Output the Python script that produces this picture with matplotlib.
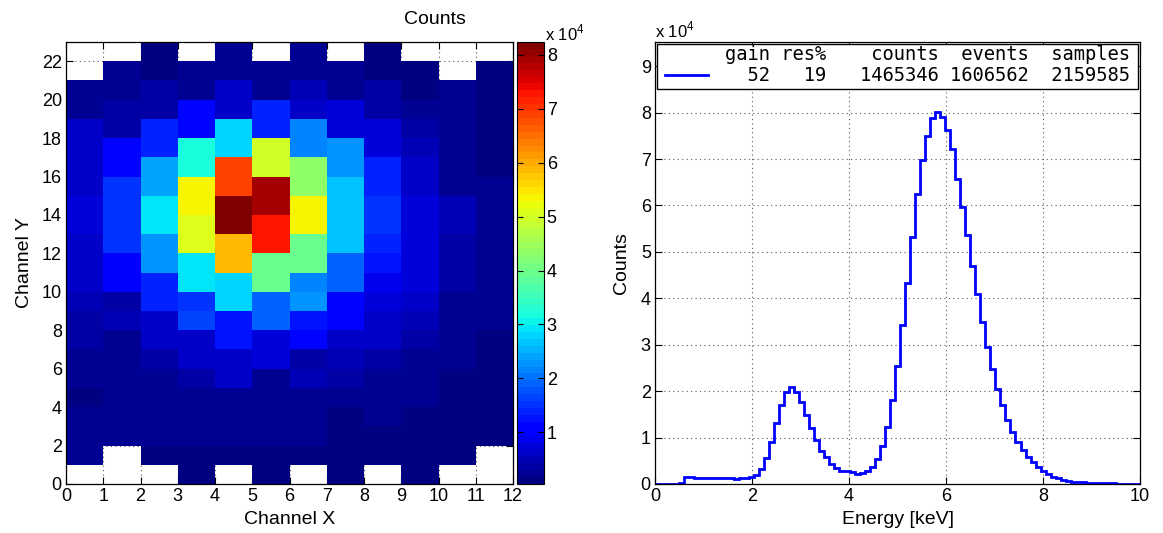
import numpy as np
import matplotlib
matplotlib.use("Agg")
import matplotlib.pyplot as plt
from matplotlib.patches import Rectangle
from matplotlib.lines import Line2D

plt.rcParams["font.family"] = "Liberation Sans"
plt.rcParams["mathtext.fontset"] = "custom"
plt.rcParams["mathtext.rm"] = "Liberation Sans"

# pad map: counts per channel (thousands), rows from Y=0 upwards, NaN = dead pad
nan = np.nan
pad_counts_k = [
    [nan, nan, nan, 1.2, nan, 1.2, nan, 1.2, nan, 1.2, nan, nan],
    [1.7, nan, 1.2, 1.2, 1.2, 1.2, 1.2, 1.2, 1.2, 1.2, 1.2, nan],
    [1.7, 1.7, 1.7, 2.3, 1.7, 2.3, 1.7, 1.2, 1.2, 1.2, 1.2, 1.2],
    [1.7, 1.7, 2.3, 2.3, 1.7, 2.3, 1.7, 0.7, 1.7, 1.2, 1.2, 1.2],
    [1.2, 1.7, 1.7, 2.9, 1.7, 2.3, 1.7, 2.9, 2.3, 2.3, 1.2, 1.2],
    [2.9, 2.3, 2.9, 4.0, 5.7, 2.9, 4.6, 3.4, 2.9, 2.3, 1.2, 1.2],
    [2.9, 2.3, 3.4, 6.8, 5.7, 8.0, 4.0, 5.1, 3.4, 2.9, 1.7, 1.2],
    [3.4, 2.9, 5.7, 6.8, 12.6, 8.0, 11.0, 6.3, 5.7, 4.0, 1.7, 1.2],
    [3.4, 4.6, 6.3, 16.0, 12.6, 19.1, 12.0, 11.5, 6.3, 4.6, 2.9, 2.3],
    [5.1, 4.0, 13.4, 15.1, 28.0, 19.1, 22.3, 11.0, 8.0, 5.7, 2.9, 1.7],
    [6.8, 9.5, 13.4, 29.5, 28.0, 40.0, 21.5, 19.1, 9.0, 7.4, 3.4, 1.7],
    [6.8, 9.5, 23.1, 29.5, 59.0, 40.0, 40.0, 19.1, 12.6, 8.0, 3.4, 1.7],
    [6.8, 15.1, 23.1, 51.0, 59.0, 73.0, 39.0, 26.4, 13.4, 8.0, 3.4, 1.7],
    [8.0, 15.1, 28.7, 51.0, 81.5, 73.0, 53.0, 26.4, 15.1, 8.0, 4.6, 1.7],
    [8.0, 15.1, 28.7, 53.0, 82.4, 79.0, 53.5, 26.4, 15.1, 8.0, 4.6, 2.9],
    [6.3, 15.1, 23.9, 53.0, 68.6, 79.0, 43.5, 26.4, 14.3, 6.8, 2.9, 1.7],
    [6.3, 11.0, 24.5, 31.7, 68.6, 49.6, 43.5, 22.3, 14.3, 5.7, 2.3, 1.2],
    [5.7, 11.0, 14.3, 31.7, 28.0, 49.6, 21.5, 22.3, 8.0, 5.1, 2.3, 1.2],
    [5.7, 4.0, 14.3, 11.9, 28.0, 14.3, 21.5, 8.0, 8.0, 3.4, 1.7, 1.2],
    [1.7, 4.0, 4.0, 11.9, 6.8, 14.3, 5.7, 8.0, 3.4, 2.9, 1.7, 1.2],
    [1.7, 1.7, 3.4, 1.7, 6.3, 2.3, 5.1, 1.7, 3.4, 0.6, 1.7, 1.2],
    [nan, 1.7, 0.6, 1.7, 1.7, 2.9, 1.7, 1.7, 0.6, 1.2, nan, 1.2],
    [nan, nan, 0.4, nan, 1.7, nan, 1.7, nan, 1.2, nan, nan, nan],
]

# energy spectrum
bin_w = 0.1037      # keV per bin
e_start = -0.0337   # lower edge of first bin
spectrum = [
    0, 0, 0, 0, 0, 300, 1500, 1450, 1300, 1300, 1300, 1250, 1300, 1250, 1250,
    1200, 1100, 1200, 1300, 1600, 2000, 3200, 5600, 9000, 13100, 17100, 19800,
    20800, 19800, 17700, 14800, 12100, 9500, 7200, 5800, 4300, 3400, 2900, 2700,
    2500, 2200, 2300, 2700, 3600, 5300, 8100, 12200, 18000, 25400, 34200, 43400,
    53200, 62500, 69700, 75000, 78800, 80100, 79000, 76300, 72200, 65600, 59600,
    53700, 47000, 41000, 34900, 29500, 24800, 20500, 17100, 13800, 11200, 9000,
    7300, 5800, 4700, 3600, 2900, 2200, 1600, 1200, 900, 650, 500, 350, 350,
    200, 200, 200, 150, 150, 150, 100, 100, 100, 100, 100,
]

legend_head = "gain res%    counts  events  samples"
legend_row = "  52   19   1465346 1606562  2159585"

W, H = 1163, 533
fig = plt.figure(figsize=(W / 100, H / 100), dpi=100)


def box(x0, x1, y0, y1):
    return [x0 / W, 1 - y1 / H, (x1 - x0) / W, (y1 - y0) / H]


ax1 = fig.add_axes(box(66, 513, 42, 484))
cax = fig.add_axes(box(517, 544, 42, 484))
ax2 = fig.add_axes(box(655, 1140, 42, 484))

fs = 13
grid_kw = dict(color="0.35", linestyle=(0, (1, 3)), linewidth=0.8)

# --- pad map ---
Z = np.ma.masked_invalid(np.array(pad_counts_k) * 1e3)
ny, nx = Z.shape
ax1.set_axisbelow(True)
ax1.grid(True, **grid_kw)
mesh = ax1.pcolormesh(np.arange(nx + 1), np.arange(ny + 1), Z,
                      cmap=plt.get_cmap("jet", 64), vmin=Z.min(), vmax=Z.max())
ax1.set_xlim(0, nx)
ax1.set_ylim(0, ny)
ax1.set_xticks(np.arange(0, nx + 1, 1))
ax1.set_yticks(np.arange(0, ny, 2))
ax1.set_xlabel("Channel X", fontsize=fs + 1, labelpad=4)
ax1.set_ylabel("Channel Y", fontsize=fs + 1, labelpad=6)
fig.text(435 / W, 1 - 20 / H, "Counts", fontsize=fs + 1, ha="center", va="center")

cb = fig.colorbar(mesh, cax=cax)
cb.set_ticks(np.arange(1, 9) * 1e4)
cb.set_ticklabels([str(i) for i in range(1, 9)])
cb.ax.tick_params(direction="in", left=True, right=True, length=4,
                  labelsize=fs, pad=2)
cb.outline.set_linewidth(0.8)
fig.text(545 / W, 1 - 40 / H, r"x 10$^{4}$", fontsize=fs - 1, ha="left", va="baseline")

# --- spectrum ---
edges = e_start + bin_w * np.arange(len(spectrum) + 1)
ax2.set_axisbelow(True)
ax2.grid(True, **grid_kw)
ax2.stairs(spectrum, edges, color="blue", linewidth=2)
ax2.set_xlim(0, 10)
ax2.set_ylim(0, 9.52e4)
ax2.set_xticks(np.arange(0, 11, 2))
ax2.set_yticks(np.arange(0, 10) * 1e4)
ax2.set_yticklabels([str(i) for i in range(10)])
ax2.set_xlabel("Energy [keV]", fontsize=fs + 1, labelpad=4)
ax2.set_ylabel("Counts", fontsize=fs + 1, labelpad=8)
fig.text(655 / W, 1 - 37 / H, r"x 10$^{4}$", fontsize=fs - 1, ha="left", va="baseline")

# stats box in the top of the spectrum panel
mono = dict(family="DejaVu Sans Mono", fontsize=13.5)
ax2.add_patch(Rectangle((0.004, 0.894), 0.992, 0.102, transform=ax2.transAxes,
                        facecolor="white", edgecolor="black", linewidth=1, zorder=5))
ax2.text(0.979, 0.9706, legend_head, transform=ax2.transAxes, ha="right",
         va="center", zorder=6, **mono)
ax2.text(0.979, 0.925, legend_row, transform=ax2.transAxes, ha="right",
         va="center", zorder=6, **mono)
ax2.add_line(Line2D([0.021, 0.109], [0.925, 0.925], transform=ax2.transAxes,
                    color="blue", linewidth=2, zorder=6))

for ax in (ax1, ax2):
    ax.tick_params(direction="in", top=True, right=True, length=5, width=0.8,
                   labelsize=fs, pad=3)
    for s in ax.spines.values():
        s.set_linewidth(0.9)

fig.savefig("out.png", dpi=100)
